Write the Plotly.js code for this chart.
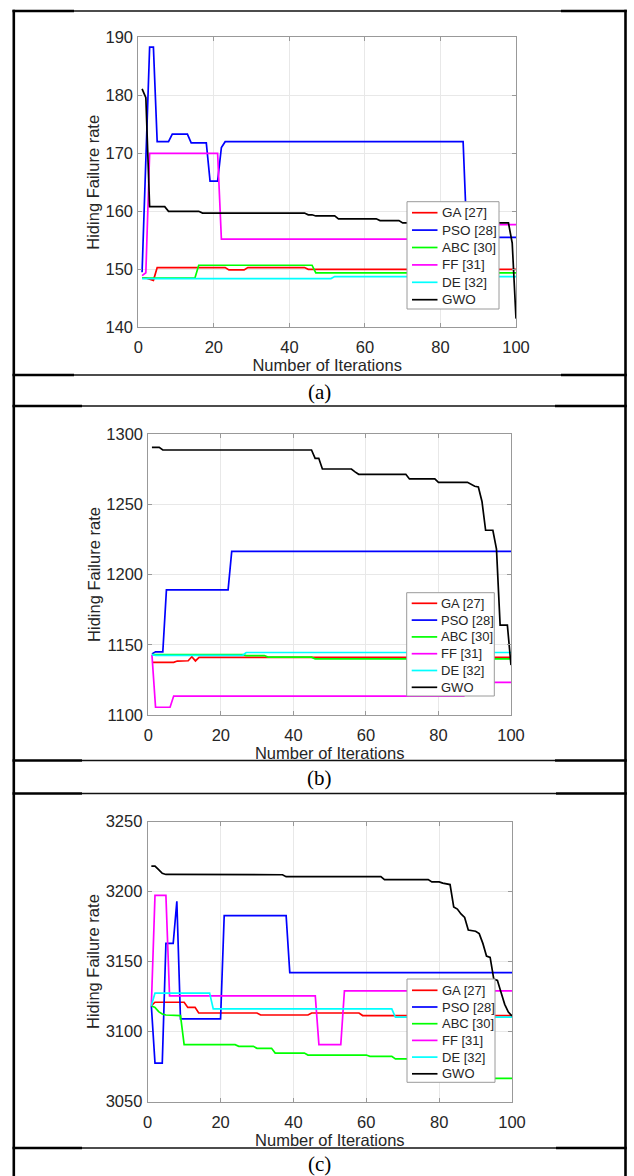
<!DOCTYPE html>
<html><head><meta charset="utf-8">
<script src="https://cdn.plot.ly/plotly-3.0.1.min.js"></script>
<style>html,body{margin:0;padding:0;background:#fff;}#chart{width:634px;height:1176px;}</style>
</head><body><div id="chart"></div>
<script>
// ---------- DATA ----------
const seriesNames  = ['GA [27]', 'PSO [28]', 'ABC [30]', 'FF [31]', 'DE [32]', 'GWO'];
const xTickVals    = [0, 20, 40, 60, 80, 100];
const panelLabels  = ['(a)', '(b)', '(c)'];
const xTitleText   = 'Number of Iterations';
const yTitleText   = 'Hiding Failure rate';

// Panel (a): iteration / value vertices of each curve
const a_GA_x  = [1, 2, 3, 4, 5, 23, 24, 28, 29, 44, 45, 100];
const a_GA_y  = [148.5, 148.5, 148.3, 148.1, 150.3, 150.3, 149.9, 149.9, 150.3, 150.3, 150.0, 150.0];
const a_PSO_x = [1, 2, 3, 4, 5, 8, 9, 13, 14, 18, 19, 21, 22, 23, 86, 87, 100];
const a_PSO_y = [149.5, 169, 188.3, 188.3, 172, 172, 173.3, 173.3, 171.8, 171.8, 165.2, 165.2, 171, 172, 172, 155.5, 155.5];
const a_ABC_x = [1, 15, 16, 46, 47, 100];
const a_ABC_y = [148.5, 148.5, 150.7, 150.7, 149.4, 149.4];
const a_FF_x  = [1, 2, 3, 21, 22, 85, 86, 100];
const a_FF_y  = [148.9, 149.4, 170, 170, 155.2, 155.2, 157.7, 157.7];
const a_DE_x  = [1, 51, 52, 100];
const a_DE_y  = [148.4, 148.4, 148.75, 148.75];
const a_GWO_x = [1, 2, 3, 7, 8, 16, 17, 44, 45, 46, 47, 52, 53, 63, 64, 69, 70, 98, 99, 100];
const a_GWO_y = [181.1, 179.6, 160.8, 160.8, 160.0, 160.0, 159.7, 159.7, 159.4, 159.4, 159.2, 159.2, 158.7, 158.7, 158.4, 158.4, 158.0, 158.0, 154.5, 141.5];

// Panel (b)
const b_GA_x  = [1, 7, 8, 10, 11, 12, 13, 14, 100];
const b_GA_y  = [1137.5, 1137.5, 1138.4, 1138.4, 1138.6, 1141.5, 1138.5, 1141, 1141];
const b_PSO_x = [1, 2, 4, 5, 22, 23, 100];
const b_PSO_y = [1143.5, 1145, 1145, 1189, 1189, 1216.5, 1216.5];
const b_ABC_x = [1, 26, 27, 32, 33, 45, 46, 100];
const b_ABC_y = [1143, 1143, 1142.3, 1142.3, 1141.2, 1141.2, 1140, 1140];
const b_FF_x  = [1, 2, 6, 7, 87, 88, 100];
const b_FF_y  = [1143, 1105.5, 1105.5, 1113.5, 1113.5, 1123.2, 1123.2];
const b_DE_x  = [1, 2, 26, 27, 100];
const b_DE_y  = [1143, 1142.5, 1142.5, 1144.5, 1144.5];
const b_GWO_x = [1, 3, 4, 45, 46, 47, 48, 56, 57, 58, 71, 72, 79, 80, 88, 89, 90, 91, 92, 93, 95, 96, 97, 99, 100];
const b_GWO_y = [1290.5, 1290.5, 1288.6, 1288.6, 1282.7, 1282.7, 1275.1, 1275.1, 1273, 1271.3, 1271.3, 1268, 1268, 1265.6, 1265.6, 1264.3, 1262.8, 1262.3, 1252, 1231.5, 1231.5, 1218, 1164, 1164, 1135.5];

// Panel (c)
const c_GA_x  = [1, 2, 10, 11, 13, 14, 30, 31, 44, 45, 58, 59, 100];
const c_GA_y  = [3118.5, 3121, 3121, 3117.3, 3117.3, 3113.3, 3113.3, 3111.9, 3111.9, 3113.3, 3113.3, 3111.5, 3111.5];
const c_PSO_x = [1, 2, 4, 5, 7, 8, 9, 20, 21, 38, 39, 100];
const c_PSO_y = [3118.5, 3077.6, 3077.6, 3163, 3163, 3193, 3109.1, 3109.1, 3182.8, 3182.8, 3142.1, 3142.1];
const c_ABC_x = [1, 2, 3, 4, 5, 9, 10, 24, 25, 29, 30, 34, 35, 43, 44, 60, 61, 67, 68, 71, 80, 86, 92, 95, 100];
const c_ABC_y = [3118.5, 3117.3, 3114.3, 3112.6, 3111.9, 3111.5, 3090.7, 3090.7, 3089.5, 3089.5, 3088.1, 3088.1, 3084.7, 3084.7, 3083.3, 3083.3, 3082.4, 3082.4, 3080.5, 3080.5, 3077, 3072, 3068, 3066.6, 3066.6];
const c_FF_x  = [1, 2, 5, 6, 46, 47, 53, 54, 100];
const c_FF_y  = [3118.5, 3197.2, 3197.2, 3125.6, 3125.6, 3090.7, 3090.7, 3129.1, 3129.1];
const c_DE_x  = [1, 2, 17, 18, 67, 68, 100];
const c_DE_y  = [3118.5, 3127.5, 3127.5, 3116.2, 3116.2, 3110.3, 3110.3];
const c_GWO_x = [1, 2, 3, 4, 5, 37, 38, 64, 65, 77, 78, 80, 81, 83, 84, 85, 86, 87, 88, 90, 91, 92, 93, 94, 95, 96, 97, 98, 99, 100];
const c_GWO_y = [3218.2, 3218.2, 3215.7, 3213, 3212.2, 3212, 3210.6, 3210.6, 3208.5, 3208.5, 3206.9, 3206.9, 3206, 3205, 3189, 3187.5, 3184, 3181.5, 3172.5, 3171.7, 3170, 3163, 3154, 3153, 3137.5, 3136.5, 3128, 3119.5, 3114, 3111.2];

const yRangeA = [140, 190],  yTicksA = [140, 150, 160, 170, 180, 190];
const yRangeB = [1100, 1300], yTicksB = [1100, 1150, 1200, 1250, 1300];
const yRangeC = [3050, 3250], yTicksC = [3050, 3100, 3150, 3200, 3250];

// ---------- STYLE / LAYOUT ----------
const W = 634, H = 1176;
const fx = p => p / W;
const fy = p => 1 - p / H;
const colors = ['#ff0000', '#0000ff', '#00ff00', '#ff00ff', '#00ffff', '#000000'];
const sansFont = 'Liberation Sans, Arial, Helvetica, sans-serif';
const textCol = '#262626';

const panels = [
  {xs: [a_GA_x, a_PSO_x, a_ABC_x, a_FF_x, a_DE_x, a_GWO_x], ys: [a_GA_y, a_PSO_y, a_ABC_y, a_FF_y, a_DE_y, a_GWO_y],
   yr: yRangeA, yt: yTicksA, box: [138.3, 516, 37.3, 327.3],
   leg: {l: 407, r: 499, t: 201.7, b: 309, first: 11.0, step: 17.4, size: 13.5}},
  {xs: [b_GA_x, b_PSO_x, b_ABC_x, b_FF_x, b_DE_x, b_GWO_x], ys: [b_GA_y, b_PSO_y, b_ABC_y, b_FF_y, b_DE_y, b_GWO_y],
   yr: yRangeB, yt: yTicksB, box: [148.3, 511, 434, 715],
   leg: {l: 406.7, r: 494.3, t: 592.7, b: 696, first: 10.6, step: 16.8, size: 13}},
  {xs: [c_GA_x, c_PSO_x, c_ABC_x, c_FF_x, c_DE_x, c_GWO_x], ys: [c_GA_y, c_PSO_y, c_ABC_y, c_FF_y, c_DE_y, c_GWO_y],
   yr: yRangeC, yt: yTicksC, box: [147.7, 512, 821.5, 1101.7],
   leg: {l: 407, r: 495, t: 979, b: 1082.3, first: 11.3, step: 16.7, size: 13}}
];

const traces = [];
const layout = {
  width: W, height: H,
  margin: {l: 0, r: 0, t: 0, b: 0},
  paper_bgcolor: '#ffffff', plot_bgcolor: '#ffffff',
  font: {family: sansFont, color: textCol},
  showlegend: false,
  shapes: [], annotations: []
};

const seg = (x0, x1, y0, y1, w, c) => ({type: 'line', xref: 'paper', yref: 'paper',
  x0: fx(x0), x1: fx(x1), y0: fy(y0), y1: fy(y1), line: {color: c, width: w}});

panels.forEach((p, i) => {
  const n = i === 0 ? '' : String(i + 1);
  for (let s = 0; s < seriesNames.length; s++) {
    traces.push({
      type: 'scatter', mode: 'lines',
      x: p.xs[s], y: p.ys[s],
      name: seriesNames[s],
      xaxis: 'x' + n, yaxis: 'y' + n,
      showlegend: false,
      line: {color: colors[s], width: 1.7},
      hoverinfo: 'skip'
    });
  }
  const axBase = {
    showline: true, mirror: 'ticks', linecolor: '#999999', linewidth: 1,
    ticks: 'inside', ticklen: 4, tickcolor: '#999999', tickwidth: 1,
    showgrid: true, gridcolor: '#e8e8e8', gridwidth: 1, zeroline: false,
    tickfont: {family: sansFont, size: 16.5, color: textCol},
    fixedrange: true
  };
  layout['xaxis' + n] = Object.assign({}, axBase, {
    domain: [fx(p.box[0]), fx(p.box[1])],
    anchor: 'y' + n,
    range: [0, 100], tickmode: 'array', tickvals: xTickVals,
    ticklabelstandoff: 5,
    title: {text: xTitleText, font: {family: sansFont, size: 16.5, color: textCol}, standoff: 4}
  });
  layout['yaxis' + n] = Object.assign({}, axBase, {
    domain: [fy(p.box[3]), fy(p.box[2])],
    anchor: 'x' + n,
    range: p.yr, tickmode: 'array', tickvals: p.yt,
    ticklabelstandoff: 1,
    title: {text: yTitleText, font: {family: sansFont, size: 16.5, color: textCol}, standoff: 1}
  });

  // legend box (MATLAB-style), entries from seriesNames / colors
  const L = p.leg;
  layout.shapes.push({type: 'rect', xref: 'paper', yref: 'paper',
    x0: fx(L.l), x1: fx(L.r), y0: fy(L.b), y1: fy(L.t),
    fillcolor: '#ffffff', line: {color: '#9a9a9a', width: 1}});
  seriesNames.forEach((name, s) => {
    const cy = L.t + L.first + s * L.step;
    layout.shapes.push(seg(L.l + 5, L.l + 30.5, cy, cy, 1.7, colors[s]));
    layout.annotations.push({
      text: name, xref: 'paper', yref: 'paper', x: fx(L.l + 32.5), y: fy(cy),
      xanchor: 'left', yanchor: 'middle', showarrow: false,
      font: {family: sansFont, size: L.size, color: textCol}
    });
  });
});

// Table borders (outer frame + row separators)
const frameL = 13.8, frameR = 625.5, lineHeavy = 2.6;
const rows = [
  {y: 11.0, il: 74, ir: 561}, {y: 375.0, il: 74, ir: 561},
  {y: 406.0, il: 82, ir: 555}, {y: 760.5, il: 82, ir: 555},
  {y: 793.5, il: 82, ir: 556}, {y: 1148.0, il: 82, ir: 556}
];
layout.shapes.push(seg(frameL, frameL, 9.7, H, lineHeavy, '#000'));
layout.shapes.push(seg(frameR, frameR, 9.7, H, lineHeavy, '#000'));
rows.forEach(r => {
  layout.shapes.push(seg(frameL - 1.3, r.il, r.y, r.y, lineHeavy, '#000'));
  layout.shapes.push(seg(r.il, r.ir, r.y, r.y, 1.3, '#111'));
  layout.shapes.push(seg(r.ir, frameR + 1.3, r.y, r.y, lineHeavy, '#000'));
});

// Row captions
const capY = [391.5, 777.5, 1164.0];
panelLabels.forEach((t, i) => {
  layout.annotations.push({
    text: t, xref: 'paper', yref: 'paper', x: fx((frameL + frameR) / 2), y: fy(capY[i]),
    xanchor: 'center', yanchor: 'middle', showarrow: false,
    font: {family: 'Liberation Serif, Times New Roman, serif', size: 21, color: '#000'}
  });
});

Plotly.newPlot('chart', traces, layout, {displayModeBar: false, staticPlot: true});
</script>
</body></html>
